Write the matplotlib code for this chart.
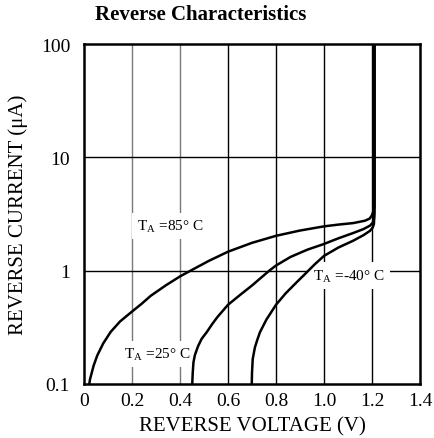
import matplotlib
matplotlib.use("Agg")
import matplotlib.pyplot as plt

plt.rcParams['font.family'] = ['Liberation Serif', 'DejaVu Serif']
plt.rcParams['mathtext.fontset'] = 'custom'
plt.rcParams['mathtext.rm'] = 'Liberation Serif'

title = "Reverse Characteristics"
x_label = "REVERSE VOLTAGE (V)"
y_label = "REVERSE CURRENT (\u03bcA)"
x_ticks = [0, 0.2, 0.4, 0.6, 0.8, 1.0, 1.2, 1.4]
x_tick_labels = ["0", "0.2", "0.4", "0.6", "0.8", "1.0", "1.2", "1.4"]
y_ticks = [0.1, 1, 10, 100]
y_tick_labels = ["0.1", "1", "10", "100"]

v_85 = [0.022, 0.025, 0.04, 0.055, 0.08, 0.111, 0.15, 0.199, 0.24, 0.278, 0.34, 0.40, 0.444,
        0.52, 0.60, 0.70, 0.80, 0.90, 1.0, 1.06, 1.122, 1.171, 1.19, 1.199, 1.206, 1.209, 1.21, 1.21]
i_85 = [0.1, 0.11, 0.145, 0.178, 0.228, 0.288, 0.356, 0.434, 0.51, 0.60, 0.74, 0.89, 1.0,
        1.22, 1.47, 1.76, 2.03, 2.26, 2.46, 2.55, 2.63, 2.76, 2.88, 3.06, 3.35, 3.63, 4.3, 100]

v_25 = [0.451, 0.453, 0.456, 0.462, 0.475, 0.49, 0.511, 0.535, 0.556, 0.60, 0.65, 0.70, 0.772, 0.80,
        0.86, 0.93, 1.0, 1.06, 1.122, 1.165, 1.192, 1.203, 1.208, 1.21, 1.21]
i_25 = [0.1, 0.125, 0.155, 0.18, 0.215, 0.25, 0.286, 0.34, 0.39, 0.50, 0.61, 0.74, 1.0, 1.11,
        1.32, 1.53, 1.72, 1.93, 2.15, 2.33, 2.5, 2.65, 2.86, 3.5, 100]

v_m40 = [0.699, 0.700, 0.703, 0.712, 0.722, 0.733, 0.76, 0.80, 0.84, 0.886, 0.92, 0.96, 1.0,
         1.06, 1.122, 1.165, 1.192, 1.203, 1.208, 1.21, 1.21]
i_m40 = [0.1, 0.125, 0.166, 0.21, 0.245, 0.286, 0.37, 0.50, 0.63, 0.79, 0.93, 1.13, 1.35,
         1.6, 1.84, 2.06, 2.25, 2.4, 2.58, 3.2, 100]

fig = plt.figure(figsize=(4.35, 4.39), dpi=100)
ax = fig.add_axes([84/435, 54/439, 336/435, 340/439])
ax.set_yscale('log')
ax.set_xlim(0, 1.4)
ax.set_ylim(0.1, 100)

for xv in x_ticks[1:-1]:
    c = '#7a7a7a' if xv < 0.5 else 'black'
    ax.axvline(xv, color=c, lw=1.0, zorder=1)
for yv in y_ticks[1:-1]:
    ax.axhline(yv, color='black', lw=1.0, zorder=1)

for v, i in [(v_85, i_85), (v_25, i_25), (v_m40, i_m40)]:
    ax.plot(v, i, color='black', lw=1.8, zorder=3, solid_joinstyle='round', solid_capstyle='butt')

ax.set_xticks(x_ticks)
ax.set_xticklabels(x_tick_labels)
ax.set_yticks(y_ticks)
ax.set_yticklabels(y_tick_labels)
ax.minorticks_off()
ax.tick_params(axis='x', length=0, labelsize=14, pad=6)
ax.tick_params(axis='y', length=0, labelsize=14, pad=10)
for s in ax.spines.values():
    s.set_linewidth(1.8)
    s.set_zorder(4)

ax.set_xlabel(x_label, fontsize=15, labelpad=5)
ax.set_ylabel(y_label, fontsize=15, labelpad=9)

bb = dict(facecolor='white', edgecolor='none', pad=3.5)
ax.text(0.22, 2.48, r"T$_{\mathregular{A}}$ =85° C", fontsize=11, va='center', ha='left', bbox=bb, zorder=2)
ax.text(0.167, 0.184, r"T$_{\mathregular{A}}$ =25° C", fontsize=11, va='center', ha='left', bbox=bb, zorder=2)
ax.text(0.955, 0.907, r"T$_{\mathregular{A}}$ =-40° C", fontsize=11, va='center', ha='left', bbox=bb, zorder=2)

fig.text(95/435, 1 - 19.5/439, title, fontsize=15, fontweight='bold', ha='left', va='baseline')

fig.savefig("out.png", dpi=100)
